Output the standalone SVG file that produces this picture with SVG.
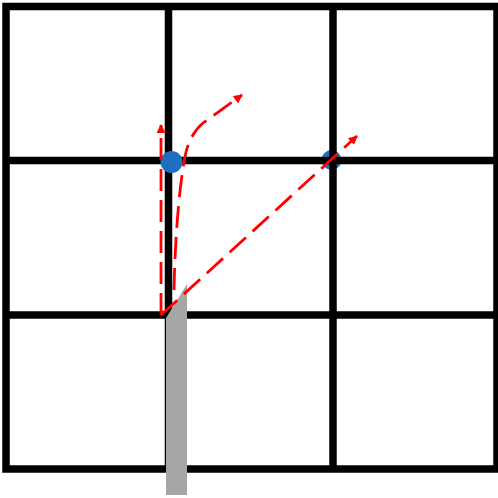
<svg xmlns="http://www.w3.org/2000/svg" width="498" height="498" viewBox="0 0 498 498">
<style>
.grid{stroke:#000;stroke-width:7.5;fill:none}
.path{stroke:#FF0000;stroke-width:2.8;fill:none;stroke-dasharray:22 9}
.dot{fill:#1F6FC0}
</style>
<defs>
<marker id="ah" markerUnits="userSpaceOnUse" viewBox="0 0 10 10" markerWidth="11" markerHeight="9" refX="9" refY="5" orient="auto">
<path d="M0,0 L10,5 L0,10 z" fill="#FF0000"/>
</marker>
</defs>
<rect width="498" height="498" fill="#fff"/>
<g id="dot-right"><circle class="dot" cx="331.5" cy="160" r="10"/></g>
<g id="grid">
<rect class="grid" x="6" y="6.5" width="491" height="462.5"/>
<line class="grid" x1="168.5" y1="6.5" x2="168.5" y2="469"/>
<line class="grid" x1="333" y1="6.5" x2="333" y2="469"/>
<line class="grid" x1="6" y1="160.5" x2="497" y2="160.5"/>
<line class="grid" x1="6" y1="315" x2="497" y2="315"/>
</g>
<g id="bar"><polygon points="166,318 187,284 187,495 166,495" fill="#A6A6A6"/></g>
<g id="dot-left"><circle class="dot" cx="171.5" cy="162" r="11"/></g>
<g id="connectors">
<path class="path" d="M161,315 L161,125" marker-end="url(#ah)"/>
<path class="path" d="M174,290 C175,240 179,185 186,152 Q191,133 203,123 L242,95" marker-end="url(#ah)"/>
<path class="path" d="M161,315 L357,136" marker-end="url(#ah)"/>
</g>
</svg>
